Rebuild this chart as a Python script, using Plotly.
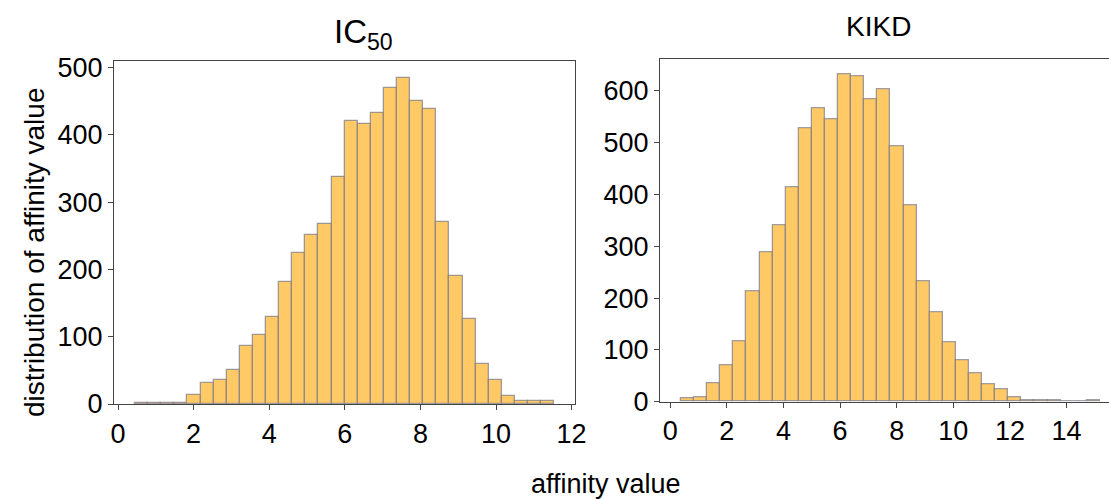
import numpy as np
import plotly.graph_objects as go

# ---- data ----
ic50_counts = [1, 1, 1, 2, 14, 31, 36, 51, 86, 103, 129, 182, 224, 252, 268, 337,
               421, 417, 432, 470, 485, 451, 438, 271, 191, 126, 59, 36, 12, 4, 4, 4]
ic50_range = (0.45, 11.54)

kikd_counts = [7, 9, 35, 71, 117, 214, 289, 340, 413, 528, 566, 546, 632, 629, 584, 604,
               494, 380, 232, 173, 114, 79, 55, 34, 24, 8, 3, 3, 3, 1, 1, 3]
kikd_range = (0.377, 15.18)

ic50_xticks = [0, 2, 4, 6, 8, 10, 12]
ic50_yticks = [0, 100, 200, 300, 400, 500]
kikd_xticks = [0, 2, 4, 6, 8, 10, 12, 14]
kikd_yticks = [0, 100, 200, 300, 400, 500, 600]

titles = ["IC<sub>50</sub>", "KIKD"]
x_label = "affinity value"
y_label = "distribution of affinity value"


def bins(counts, rng):
    edges = np.linspace(rng[0], rng[1], len(counts) + 1)
    centers = (edges[:-1] + edges[1:]) / 2
    return centers, edges[1] - edges[0]


FILL = "rgb(255,201,102)"
EDGE = "rgba(120,120,135,0.7)"
AX = "#444444"
FONT = "Liberation Sans, Arial, sans-serif"

fig = go.Figure()
for counts, rng, xa, ya in [(ic50_counts, ic50_range, "x", "y"),
                            (kikd_counts, kikd_range, "x2", "y2")]:
    c, w = bins(counts, rng)
    fig.add_trace(go.Bar(x=c, y=counts, width=w, xaxis=xa, yaxis=ya,
                         marker=dict(color=FILL, line=dict(color=EDGE, width=1.3)),
                         showlegend=False))

W, H = 1109, 499
common = dict(showline=True, linecolor=AX, linewidth=1.3, ticks="outside",
              ticklen=5, tickcolor=AX, tickwidth=1.2, showgrid=False, zeroline=False,
              automargin=False,
              tickfont=dict(family=FONT, size=27, color="black"))

fig.update_layout(
    width=W, height=H, margin=dict(l=0, r=0, t=0, b=0, pad=0),
    paper_bgcolor="white", plot_bgcolor="white", bargap=0,
    xaxis=dict(domain=[114 / W, 575 / W], range=[-0.106, 12.09], tickvals=ic50_xticks,
               mirror=True, anchor="y", **common),
    yaxis=dict(domain=[(H - 404) / H, (H - 61) / H], range=[0, 510], tickvals=ic50_yticks,
               mirror=True, anchor="x", **common),
    xaxis2=dict(domain=[660 / W, 1.0], range=[-0.363, 15.5], tickvals=kikd_xticks,
                mirror=True, anchor="y2", **common),
    yaxis2=dict(domain=[(H - 401.7) / H, (H - 59.3) / H], range=[0, 661], tickvals=kikd_yticks,
                mirror=False, anchor="x2", **common),
)


def label(text, px, py, size, angle=0):
    fig.add_annotation(text=text, x=px / W, y=(H - py) / H, xref="paper", yref="paper",
                       xanchor="center", yanchor="middle", textangle=angle,
                       showarrow=False, font=dict(family=FONT, size=size, color="black"))


label(titles[0], 363, 34, 33)
label(titles[1], 878, 26, 28)
label(x_label, 606, 484, 27)
label(y_label, 35, 253, 28, -90)

fig.write_html("out.html", config={"displayModeBar": False},
               post_script="document.body.style.margin='0';document.body.style.overflow='hidden';")
